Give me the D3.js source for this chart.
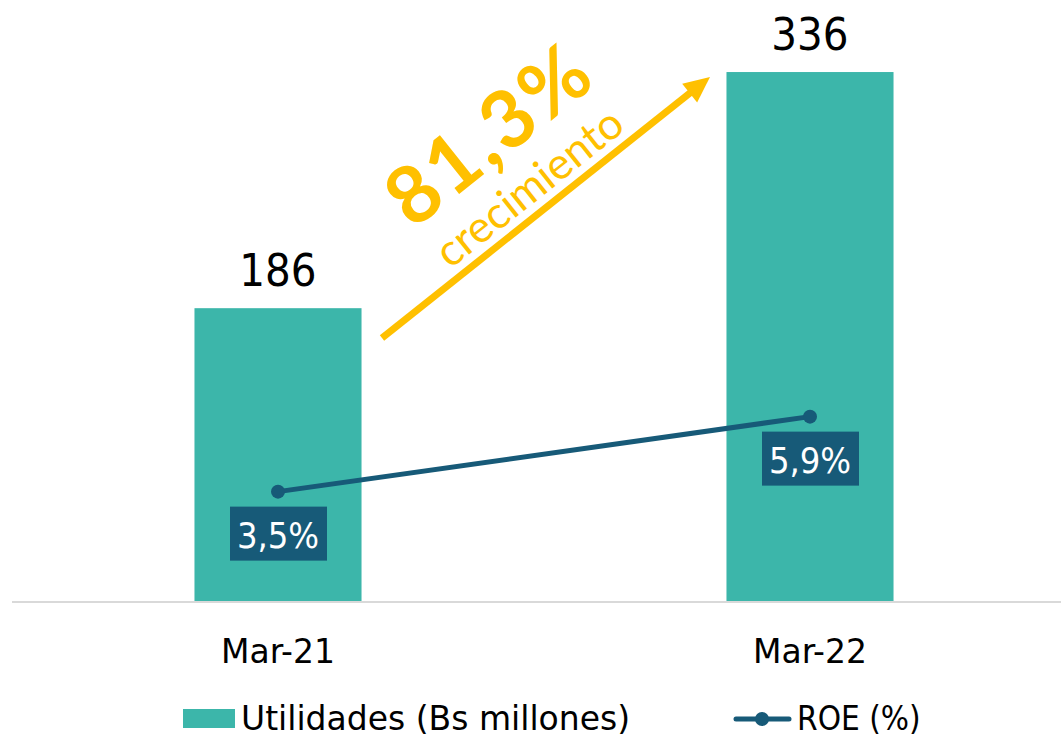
<!DOCTYPE html>
<html>
<head>
<meta charset="utf-8">
<script src="https://cdn.jsdelivr.net/npm/d3@7"></script>
<style>
  html, body { margin: 0; padding: 0; background: #fff; }
  svg { display: block; }
</style>
</head>
<body>
<div id="chart"></div>
<script>
// Data
var periods = ['Mar-21', 'Mar-22'];
var utilidades = [186, 336];
var roe = [3.5, 5.9];
var roeLabels = ['3,5%', '5,9%'];
var growthLabel = '81,3%';
var growthSub = 'crecimiento';
var legendNames = ['Utilidades (Bs millones)', 'ROE (%)'];

var attrs = {
  width: 1061,
  height: 738,
  baseline: 601,
  barColor: '#3cb6aa',
  lineColor: '#175a78',
  arrowColor: '#ffc000',
  axisColor: '#d9d9d9',
  font: '"DejaVu Sans", sans-serif',
  fontNarrow: '"DejaVu Sans Condensed", "DejaVu Sans", sans-serif'
};

var svg = d3.select('#chart').append('svg')
  .attr('width', attrs.width)
  .attr('height', attrs.height)
  .attr('font-family', attrs.font);

var x = d3.scaleBand()
  .domain(periods)
  .range([12, 1076])
  .paddingInner(0.686)
  .paddingOuter(0.343);

var y = d3.scaleLinear().domain([0, 350]).range([attrs.baseline, 50]);
var y2 = d3.scaleLinear().domain([0, 8]).range([attrs.baseline, 351]);

// bars
svg.selectAll('.bar').data(utilidades).enter().append('rect')
  .attr('class', 'bar')
  .attr('x', (d, i) => x(periods[i]))
  .attr('width', x.bandwidth())
  .attr('y', d => y(d))
  .attr('height', d => y(0) - y(d))
  .attr('fill', attrs.barColor);

// value labels
svg.selectAll('.val').data(utilidades).enter().append('text')
  .attr('class', 'val')
  .attr('x', (d, i) => x(periods[i]) + x.bandwidth() / 2)
  .attr('y', d => y(d) - 22)
  .attr('text-anchor', 'middle')
  .attr('font-family', attrs.fontNarrow)
  .attr('font-size', 45)
  .attr('fill', '#000')
  .text(d => d);

// x axis
var xAxis = d3.axisBottom(x).tickSize(0).tickPadding(0);
var gx = svg.append('g')
  .attr('transform', 'translate(0,' + attrs.baseline + ')')
  .call(xAxis);
gx.select('.domain').attr('stroke', attrs.axisColor).attr('stroke-width', 2)
  .attr('d', 'M12,1H1061');
gx.selectAll('text')
  .attr('font-size', 33)
  .attr('font-family', attrs.font)
  .attr('fill', '#000')
  .attr('dy', 0)
  .attr('y', 62);

// ROE line
var cx = (d, i) => x(periods[i]) + x.bandwidth() / 2;
var line = d3.line().x((d, i) => cx(d, i)).y(d => y2(d));
svg.append('path')
  .datum(roe)
  .attr('d', line)
  .attr('fill', 'none')
  .attr('stroke', attrs.lineColor)
  .attr('stroke-width', 5);

svg.selectAll('.dot').data(roe).enter().append('circle')
  .attr('cx', cx)
  .attr('cy', d => y2(d))
  .attr('r', 7)
  .attr('fill', attrs.lineColor);

// ROE labels
var lab = svg.selectAll('.roe-lab').data(roe).enter().append('g')
  .attr('transform', (d, i) => 'translate(' + cx(d, i) + ',' + (y2(d) + 42) + ')');
lab.append('rect')
  .attr('x', -48).attr('y', -27)
  .attr('width', 97).attr('height', 54)
  .attr('fill', attrs.lineColor);
lab.append('text')
  .attr('text-anchor', 'middle')
  .attr('y', 14)
  .attr('font-family', attrs.fontNarrow)
  .attr('font-size', 36)
  .attr('fill', '#fff')
  .text((d, i) => roeLabels[i]);

// growth arrow
var x0 = 382, y0 = 338, x1 = 710, y1 = 77;
var ang = Math.atan2(y1 - y0, x1 - x0);
var headLen = 26, headW = 12;
var bx = x1 - headLen * Math.cos(ang), by = y1 - headLen * Math.sin(ang);
svg.append('line')
  .attr('x1', x0).attr('y1', y0)
  .attr('x2', bx + 2 * Math.cos(ang)).attr('y2', by + 2 * Math.sin(ang))
  .attr('stroke', attrs.arrowColor)
  .attr('stroke-width', 7);
var px = -Math.sin(ang), py = Math.cos(ang);
svg.append('path')
  .attr('d', 'M' + x1 + ',' + y1 +
    'L' + (bx + px * headW) + ',' + (by + py * headW) +
    'L' + (bx - px * headW) + ',' + (by - py * headW) + 'Z')
  .attr('fill', attrs.arrowColor);

var deg = ang * 180 / Math.PI;
svg.append('text')
  .attr('transform', 'translate(487,132) rotate(' + deg + ')')
  .attr('text-anchor', 'middle')
  .attr('dominant-baseline', 'central')
  .attr('font-family', 'Lato, sans-serif')
  .attr('font-weight', 'bold')
  .attr('font-size', 80)
  .attr('letter-spacing', 3)
  .attr('fill', attrs.arrowColor)
  .text(growthLabel);
svg.append('text')
  .attr('transform', 'translate(528,186) rotate(' + deg + ')')
  .attr('text-anchor', 'middle')
  .attr('dominant-baseline', 'central')
  .attr('font-family', 'Lato, sans-serif')
  .attr('font-size', 44)
  .attr('fill', attrs.arrowColor)
  .text(growthSub);

// legend
var leg = svg.append('g');
leg.append('rect')
  .attr('x', 183).attr('y', 709).attr('width', 52).attr('height', 19)
  .attr('fill', attrs.barColor);
leg.append('text')
  .attr('x', 241).attr('y', 730)
  .attr('font-size', 33)
  .attr('fill', '#000')
  .text(legendNames[0]);
leg.append('line')
  .attr('x1', 736).attr('x2', 789).attr('y1', 719).attr('y2', 719)
  .attr('stroke', attrs.lineColor).attr('stroke-width', 5)
  .attr('stroke-linecap', 'round');
leg.append('circle')
  .attr('cx', 762).attr('cy', 719).attr('r', 7)
  .attr('fill', attrs.lineColor);
leg.append('text')
  .attr('x', 797).attr('y', 730)
  .attr('font-family', attrs.fontNarrow)
  .attr('font-size', 33)
  .attr('fill', '#000')
  .text(legendNames[1]);
</script>
</body>
</html>
